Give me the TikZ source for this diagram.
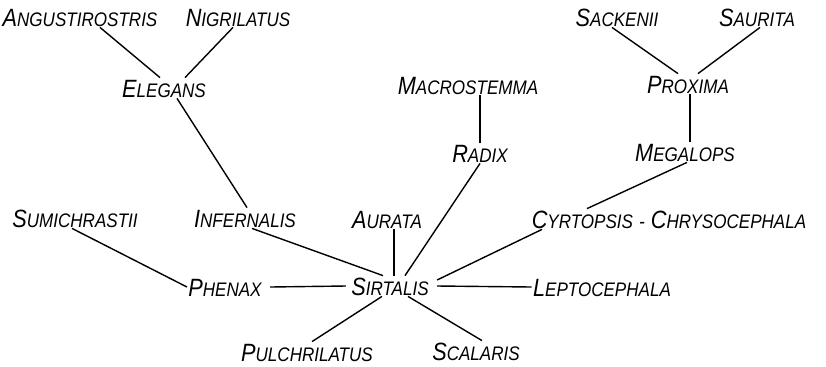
\documentclass[tikz,border=0pt]{standalone}
\usepackage{fontspec}
\setmainfont{Liberation Sans}
\newfontfamily\taxfont[FakeStretch=0.87]{Liberation Sans}
\usepackage{tikz}

\newcommand{\tx}[2]{{\fontsize{12.5pt}{14pt}\selectfont #1}{\fontsize{9.8pt}{12pt}\selectfont #2}}

\begin{document}
\begin{tikzpicture}[
        x=0.5pt, y=-0.5pt,
        taxon/.style={font=\taxfont\itshape, inner sep=0.5pt, text height=9pt, text depth=0pt},
        link/.style={line width=0.7pt}
    ]
    \useasboundingbox (0,0) rectangle (826,366);

    % top row
    \node[taxon] (ang) at (80,17) {\tx{A}{NGUSTIROSTRIS}};
    \node[taxon] (nig) at (238,17) {\tx{N}{IGRILATUS}};
    \node[taxon] (sac) at (617,17) {\tx{S}{ACKENII}};
    \node[taxon] (sau) at (757,17) {\tx{S}{AURITA}};

    % second row
    \node[taxon] (ele) at (164,88) {\tx{E}{LEGANS}};
    \node[taxon] (mac) at (468,85) {\tx{M}{ACROSTEMMA}};
    \node[taxon] (pro) at (688,84) {\tx{P}{ROXIMA}};

    % third row
    \node[taxon] (rad) at (480,153) {\tx{R}{ADIX}};
    \node[taxon] (meg) at (685,152) {\tx{M}{EGALOPS}};

    % fourth row
    \node[taxon] (sum) at (75,218) {\tx{S}{UMICHRASTII}};
    \node[taxon] (inf) at (245,218) {\tx{I}{NFERNALIS}};
    \node[taxon] (aur) at (387,219) {\tx{A}{URATA}};
    \node[taxon] (cyr) at (669,219) {\tx{C}{YRTOPSIS}\hspace{3pt}-\hspace{3pt}\tx{C}{HRYSOCEPHALA}};

    % fifth row
    \node[taxon] (phe) at (225,287) {\tx{P}{HENAX}};
    \node[taxon] (sir) at (390,286) {\tx{S}{IRTALIS}};
    \node[taxon] (lep) at (602,287) {\tx{L}{EPTOCEPHALA}};

    % bottom row
    \node[taxon] (pul) at (307,352) {\tx{P}{ULCHRILATUS}};
    \node[taxon] (sca) at (476,351) {\tx{S}{CALARIS}};

    % branches
    \draw[link] ([xshift=10pt]ang.south) -- ([xshift=-2pt]ele.north);
    \draw[link] ([xshift=-2.5pt]nig.south) -- ([xshift=10.5pt]ele.north);
    \draw[link] ([xshift=6.5pt]ele.south) -- ([xshift=1pt]inf.north);
    \draw[link] ([xshift=3.5pt]inf.south) -- ([xshift=-3.5pt]sir.north);
    \draw[link] ([xshift=-1.5pt]sum.south) -- (phe.west);
    \draw[link] ([xshift=3.5pt]phe.east) -- ([xshift=-2pt]sir.west);
    \draw[link] ([xshift=3.5pt]aur.south) -- ([xshift=2pt]sir.north);
    \draw[link] (rad.south) -- ([xshift=7.5pt]sir.north);
    \draw[link] ([xshift=6pt]mac.south) -- (rad.north);
    \draw[link] ([xshift=-2.5pt]sac.south) -- ([xshift=-5pt]pro.north);
    \draw[link] ([xshift=1.5pt]sau.south) -- ([xshift=5pt]pro.north);
    \draw[link] ([xshift=1pt]pro.south) -- ([xshift=2.5pt]meg.north);
    \draw[link] ([xshift=1pt]meg.south) -- ([xshift=-41pt]cyr.north);
    \draw[link] ([xshift=-63.5pt]cyr.south) -- ([shift={(3.5pt,3pt)}]sir.east);
    \draw[link] ([xshift=3.5pt]sir.east) -- (lep.west);
    \draw[link] ([xshift=-4pt]sir.south) -- ([xshift=2.5pt]pul.north);
    \draw[link] ([xshift=9pt]sir.south) -- ([xshift=3pt]sca.north);

\end{tikzpicture}
\end{document}
